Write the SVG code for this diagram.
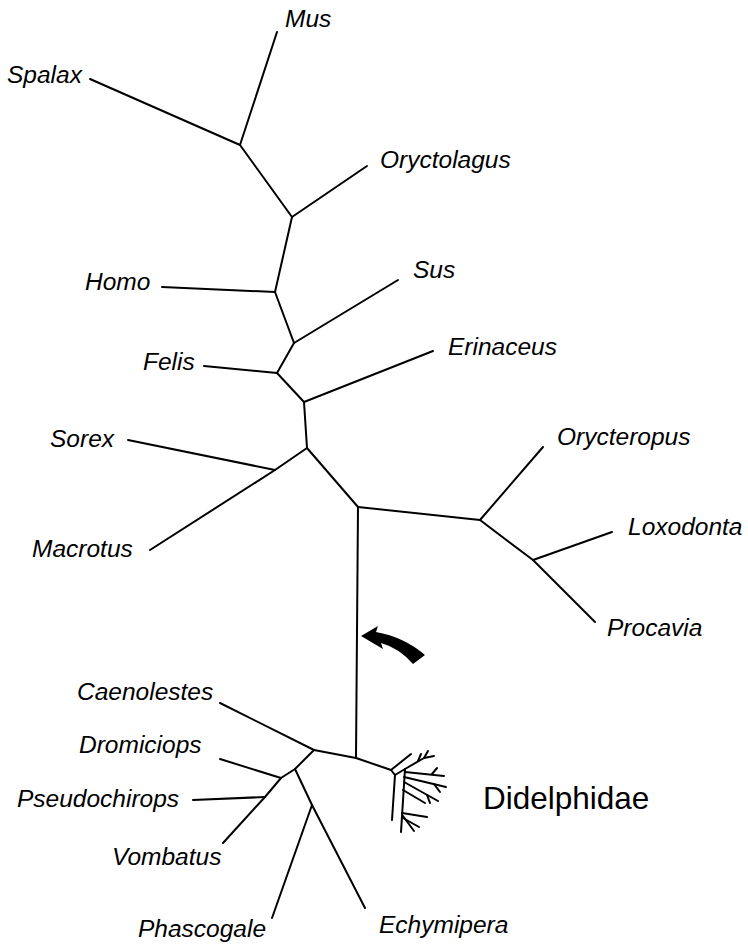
<svg xmlns="http://www.w3.org/2000/svg" width="748" height="945" viewBox="0 0 748 945">
<style>
.l{fill:none;stroke:#000;stroke-width:2;stroke-linecap:round;stroke-linejoin:round}
.t{font-family:"Liberation Sans",Arial,sans-serif;font-style:italic;font-size:24.5px;fill:#000}
.d{font-family:"Liberation Sans",Arial,sans-serif;font-size:31.5px;fill:#000}
</style>
<rect width="748" height="945" fill="#fff"/>
<g id="connectors" class="l">
<path d="M277,32 L240,145"/>
<path d="M90,79 L240,145"/>
<path d="M240,145 L292,217"/>
<path d="M292,217 L367,166"/>
<path d="M292,217 L275,292"/>
<path d="M162,287 L275,292"/>
<path d="M275,292 L294,343"/>
<path d="M294,343 L398,280"/>
<path d="M294,343 L277,373"/>
<path d="M204,366 L277,373"/>
<path d="M277,373 L304,402"/>
<path d="M304,402 L433,351"/>
<path d="M304,402 L307,448"/>
<path d="M307,448 L275,470"/>
<path d="M128,440 L275,470"/>
<path d="M275,470 L150,550"/>
<path d="M307,448 L358,507"/>
<path d="M358,507 L480,520"/>
<path d="M480,520 L543,447"/>
<path d="M480,520 L533,560"/>
<path d="M533,560 L612,532"/>
<path d="M533,560 L595,622"/>
<path d="M358,507 L356,758"/>
<path d="M220,703 L314,750"/>
<path d="M314,750 L356,758 L391,770"/>
<path d="M314,750 L295,769 L281,778"/>
<path d="M220,759 L281,778"/>
<path d="M281,778 L265,797"/>
<path d="M193,800 L265,797"/>
<path d="M265,797 L223,843"/>
<path d="M295,769 L312,805 L365,908"/>
<path d="M312,805 L272,918"/>
</g>
<g id="didelphidae-tree" class="l">
<path d="M391,770 L411,754"/>
<path d="M391,770 L395,775 L392,820"/>
<path d="M395,775 L405,769"/>
<path d="M405,769 L401,832"/>
<path d="M405,769 L424,758 L428,751"/>
<path d="M424,758 L434,756"/>
<path d="M418,761 L421,754"/>
<path d="M405,772 L444,776"/>
<path d="M432,774 L437,768"/>
<path d="M404,777 L446,787"/>
<path d="M434,784 L440,792"/>
<path d="M404,782 L438,801"/>
<path d="M427,795 L430,803"/>
<path d="M403,790 L425,803"/>
<path d="M402,813 L427,817"/>
<path d="M403,816 L414,831"/>
<path d="M403,818 L419,827"/>
</g>
<g id="arrow">
<path d="M361,636 L378,626 L376,632 Q404,637 425,655 L413,664 Q399,648 381,643 L383,649 Z" fill="#000"/>
</g>
<g id="n-mus"><text class="t" x="285" y="27">Mus</text></g>
<g id="n-spalax"><text class="t" x="7" y="83">Spalax</text></g>
<g id="n-oryctolagus"><text class="t" x="380" y="168">Oryctolagus</text></g>
<g id="n-homo"><text class="t" x="85" y="290">Homo</text></g>
<g id="n-sus"><text class="t" x="413" y="278">Sus</text></g>
<g id="n-felis"><text class="t" x="143" y="370">Felis</text></g>
<g id="n-erinaceus"><text class="t" x="448" y="355">Erinaceus</text></g>
<g id="n-sorex"><text class="t" x="50" y="447">Sorex</text></g>
<g id="n-macrotus"><text class="t" x="32" y="557">Macrotus</text></g>
<g id="n-orycteropus"><text class="t" x="557" y="445">Orycteropus</text></g>
<g id="n-loxodonta"><text class="t" x="628" y="535">Loxodonta</text></g>
<g id="n-procavia"><text class="t" x="607" y="636">Procavia</text></g>
<g id="n-caenolestes"><text class="t" x="77" y="700">Caenolestes</text></g>
<g id="n-dromiciops"><text class="t" x="79" y="753">Dromiciops</text></g>
<g id="n-pseudochirops"><text class="t" x="17" y="807">Pseudochirops</text></g>
<g id="n-vombatus"><text class="t" x="112" y="865">Vombatus</text></g>
<g id="n-phascogale"><text class="t" x="138" y="937">Phascogale</text></g>
<g id="n-echymipera"><text class="t" x="379" y="933">Echymipera</text></g>
<g id="n-didelphidae"><text class="d" x="483" y="809">Didelphidae</text></g>
</svg>
